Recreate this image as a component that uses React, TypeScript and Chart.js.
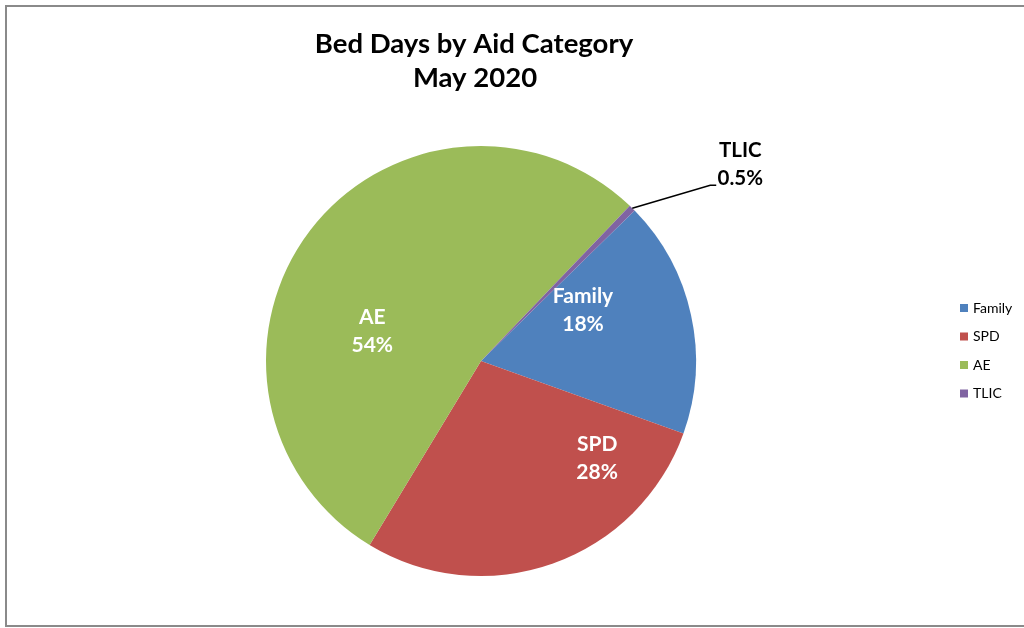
import React, { useEffect, useRef } from "react";
import { Chart, registerables } from "chart.js";

Chart.register(...registerables);

const titleLines = ["Bed Days by Aid Category", "May 2020"];
const categories = ["Family", "SPD", "AE", "TLIC"];
const shares = [17.8, 28.2, 53.5, 0.5];
const shareLabels = ["18%", "28%", "54%", "0.5%"];
const sliceColors = ["#4F81BD", "#C0504D", "#9BBB59", "#8064A2"];

const FONT = "Lato, 'Open Sans', 'DejaVu Sans', sans-serif";

// label placement (fraction along the arc span, fraction of radius)
const labelPlacement = [
  { t: 0.28, r: 0.53 },
  { t: 0.2, r: 0.705 },
  { t: 0.386, r: 0.525 },
  null,
];

const decorPlugin = {
  id: "decor",
  beforeDraw(chart: any) {
    const ctx = chart.ctx;
    ctx.save();
    ctx.fillStyle = "#ffffff";
    ctx.fillRect(0, 0, chart.width, chart.height);
    ctx.strokeStyle = "#8a8a8a";
    ctx.lineWidth = 2;
    ctx.strokeRect(6, 6, chart.width + 20, 620);
    // title
    ctx.fillStyle = "#000000";
    ctx.font = `bold 27.5px ${FONT}`;
    ctx.textAlign = "center";
    ctx.textBaseline = "middle";
    ctx.fillText(titleLines[0], 474, 44);
    ctx.fillText(titleLines[1], 475, 78);
    ctx.restore();
  },
  afterDatasetsDraw(chart: any) {
    const ctx = chart.ctx;
    const meta = chart.getDatasetMeta(0);
    ctx.save();
    ctx.textAlign = "center";
    ctx.textBaseline = "middle";
    meta.data.forEach((arc: any, i: number) => {
      const p = arc.getProps(["x", "y", "startAngle", "endAngle", "outerRadius"], true);
      const place = labelPlacement[i];
      if (place) {
        const a = p.startAngle + (p.endAngle - p.startAngle) * place.t;
        const rr = p.outerRadius * place.r;
        const cx = p.x + Math.cos(a) * rr;
        const cy = p.y + Math.sin(a) * rr;
        ctx.fillStyle = "#ffffff";
        ctx.font = `bold 21px ${FONT}`;
        ctx.fillText(categories[i], cx, cy - 14);
        ctx.fillText(shareLabels[i], cx, cy + 14);
      } else {
        const a = (p.startAngle + p.endAngle) / 2;
        const ex = p.x + Math.cos(a) * p.outerRadius;
        const ey = p.y + Math.sin(a) * p.outerRadius;
        const bx = ex + 78;
        const by = ey - 23;
        ctx.strokeStyle = "#000000";
        ctx.lineWidth = 1.5;
        ctx.beginPath();
        ctx.moveTo(ex, ey);
        ctx.lineTo(bx, by);
        ctx.lineTo(bx + 6, by);
        ctx.stroke();
        ctx.fillStyle = "#000000";
        ctx.font = `bold 20.5px ${FONT}`;
        ctx.fillText(categories[i], bx + 30, by - 35);
        ctx.fillText(shareLabels[i], bx + 30, by - 7);
      }
    });
    // legend
    ctx.textAlign = "left";
    ctx.textBaseline = "middle";
    ctx.font = `14px ${FONT}`;
    categories.forEach((c, i) => {
      const y = 308 + i * 28.5;
      ctx.fillStyle = sliceColors[i];
      ctx.fillRect(960, y - 4, 8, 8);
      ctx.fillStyle = "#000000";
      ctx.fillText(c, 973, y);
    });
    ctx.restore();
  },
};

export default function App() {
  const ref = useRef<HTMLCanvasElement>(null);
  useEffect(() => {
    if (!ref.current) return;
    const chart = new Chart(ref.current, {
      type: "pie",
      data: {
        labels: categories,
        datasets: [
          {
            data: shares,
            backgroundColor: sliceColors,
            borderWidth: 0,
          },
        ],
      },
      options: {
        responsive: false,
        animation: false,
        rotation: 45.6,
        layout: { padding: { left: 266, top: 146, right: 328, bottom: 52 } },
        plugins: {
          legend: { display: false },
          title: { display: false },
          tooltip: { enabled: false },
        },
      },
      plugins: [decorPlugin],
    });
    return () => chart.destroy();
  }, []);
  return (
    <div style={{ position: "fixed", left: 0, top: 0, width: 1024, height: 628, background: "#fff" }}>
      <canvas ref={ref} width={1024} height={628} style={{ display: "block" }} />
    </div>
  );
}
